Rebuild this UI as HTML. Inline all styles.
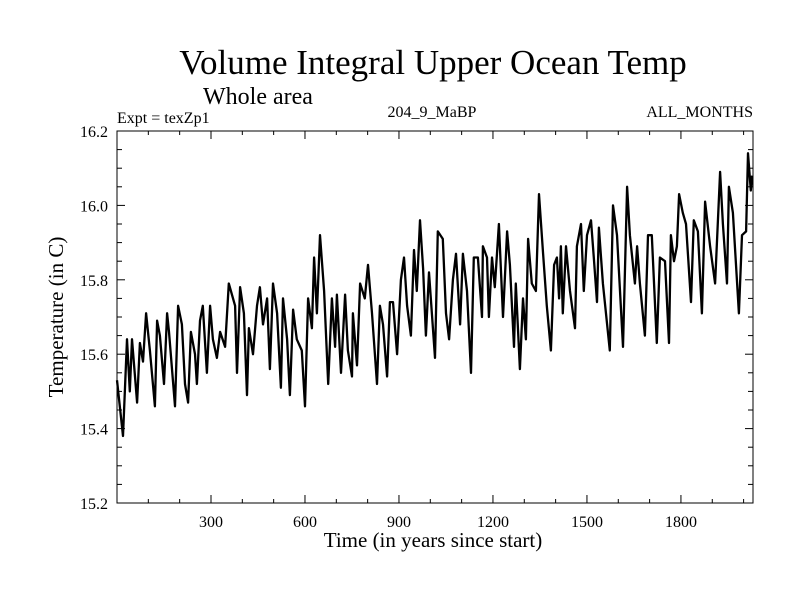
<!DOCTYPE html>
<html><head><meta charset="utf-8"><style>
body{margin:0;background:#fff}
svg text{font-family:"Liberation Serif",serif;fill:#000}
</style></head><body>
<svg id="chart" width="800" height="600" viewBox="0 0 800 600">
<text x="433" y="74" font-size="35" text-anchor="middle">Volume Integral Upper Ocean Temp</text>
<text x="203" y="104" font-size="24">Whole area</text>
<text x="117" y="123" font-size="16">Expt = texZp1</text>
<text x="432" y="117" font-size="16" text-anchor="middle">204_9_MaBP</text>
<text x="753" y="117" font-size="16" text-anchor="end">ALL_MONTHS</text>
<text x="433" y="547" font-size="21" text-anchor="middle">Time (in years since start)</text>
<text transform="translate(63,317) rotate(-90)" font-size="21" text-anchor="middle">Temperature (in C)</text>
<g id="axes"></g>
<path id="series" fill="none" stroke="#000" stroke-width="2.3" stroke-linejoin="round"/>
<rect x="117" y="131" width="636" height="372" fill="none" stroke="#000" stroke-width="1"/>
</svg>
<script>
const years=[0,19,32,41,48,64,73,83,93,105,121,128,137,150,160,166,185,195,207,217,227,236,249,255,265,274,287,297,306,319,329,345,357,377,383,393,405,415,421,434,447,456,466,479,488,498,511,523,530,543,552,562,574,590,600,610,622,629,638,648,661,674,686,696,702,715,728,737,750,753,766,776,791,801,814,830,839,849,862,871,881,894,906,916,926,938,948,957,967,977,986,996,1015,1024,1040,1050,1060,1072,1082,1095,1104,1117,1130,1139,1152,1165,1168,1181,1187,1197,1206,1219,1232,1245,1254,1267,1273,1286,1296,1305,1312,1324,1337,1347,1360,1372,1385,1395,1404,1411,1417,1423,1433,1446,1462,1468,1481,1490,1500,1513,1522,1532,1538,1551,1573,1583,1596,1615,1628,1637,1653,1660,1669,1685,1695,1707,1723,1733,1749,1762,1768,1778,1787,1794,1806,1816,1832,1841,1854,1867,1877,1893,1909,1925,1934,1947,1953,1966,1985,1995,2008,2014,2023,2027];
const temps=[15.53,15.38,15.64,15.50,15.64,15.47,15.63,15.58,15.71,15.61,15.46,15.69,15.65,15.52,15.71,15.66,15.46,15.73,15.68,15.52,15.47,15.66,15.60,15.52,15.69,15.73,15.55,15.73,15.64,15.59,15.66,15.62,15.79,15.73,15.55,15.78,15.71,15.49,15.67,15.60,15.73,15.78,15.68,15.75,15.56,15.79,15.71,15.51,15.75,15.64,15.49,15.72,15.64,15.61,15.46,15.75,15.67,15.86,15.71,15.92,15.77,15.52,15.75,15.62,15.76,15.55,15.76,15.61,15.54,15.71,15.57,15.79,15.75,15.84,15.71,15.52,15.73,15.68,15.54,15.74,15.74,15.60,15.80,15.86,15.73,15.65,15.88,15.77,15.96,15.83,15.65,15.82,15.59,15.93,15.91,15.71,15.64,15.80,15.87,15.68,15.87,15.77,15.55,15.86,15.86,15.70,15.89,15.86,15.70,15.86,15.78,15.95,15.70,15.93,15.84,15.62,15.79,15.56,15.75,15.64,15.91,15.79,15.77,16.03,15.87,15.73,15.61,15.84,15.86,15.75,15.89,15.71,15.89,15.77,15.67,15.89,15.95,15.77,15.92,15.96,15.86,15.74,15.94,15.79,15.61,16.00,15.92,15.62,16.05,15.92,15.79,15.89,15.79,15.65,15.92,15.92,15.63,15.86,15.85,15.63,15.92,15.85,15.89,16.03,15.98,15.95,15.74,15.96,15.93,15.71,16.01,15.89,15.79,16.09,15.95,15.79,16.05,15.98,15.71,15.92,15.93,16.14,16.04,16.08];
const xTickLabels=[300,600,900,1200,1500,1800];
const yTickLabels=["15.2","15.4","15.6","15.8","16.0","16.2"];
const L=117,R=753,T=131,B=503,XMAX=2030,YMIN=15.2,YMAX=16.2;
const sx=v=>L+(v/XMAX)*(R-L);
const sy=v=>B-(v-YMIN)/(YMAX-YMIN)*(B-T);
const NS="http://www.w3.org/2000/svg";
const ax=document.getElementById('axes');
function line(x1,y1,x2,y2,name){const l=document.createElementNS(NS,'line');l.setAttribute('x1',x1);l.setAttribute('y1',y1);l.setAttribute('x2',x2);l.setAttribute('y2',y2);l.setAttribute('stroke','#000');


ax.appendChild(l);}
for(let v=100;v<XMAX;v+=100){const x=sx(v);const len=(v%300===0)?8:4;line(x,B,x,B-len,'x-tick');line(x,T,x,T+len,'x-tick-top');}
for(let i=0;i<=20;i++){const v=YMIN+i*0.05;const y=sy(v);const len=(i%4===0)?8:5;line(L,y,L+len,y,'y-tick');line(R,y,R-len,y,'y-tick-right');}
xTickLabels.forEach(v=>{const t=document.createElementNS(NS,'text');t.setAttribute('x',sx(v));t.setAttribute('y',B+24);t.setAttribute('font-size','16');t.setAttribute('text-anchor','middle');t.textContent=v;


ax.appendChild(t);});
yTickLabels.forEach(s=>{const t=document.createElementNS(NS,'text');t.setAttribute('x',L-9);t.setAttribute('y',sy(parseFloat(s))+6);t.setAttribute('font-size','16');t.setAttribute('text-anchor','end');t.textContent=s;


ax.appendChild(t);});
document.getElementById('series').setAttribute('d',years.map((y,i)=>(i?'L':'M')+sx(y).toFixed(1)+','+sy(temps[i]).toFixed(1)).join(''));
</script>
</body></html>
